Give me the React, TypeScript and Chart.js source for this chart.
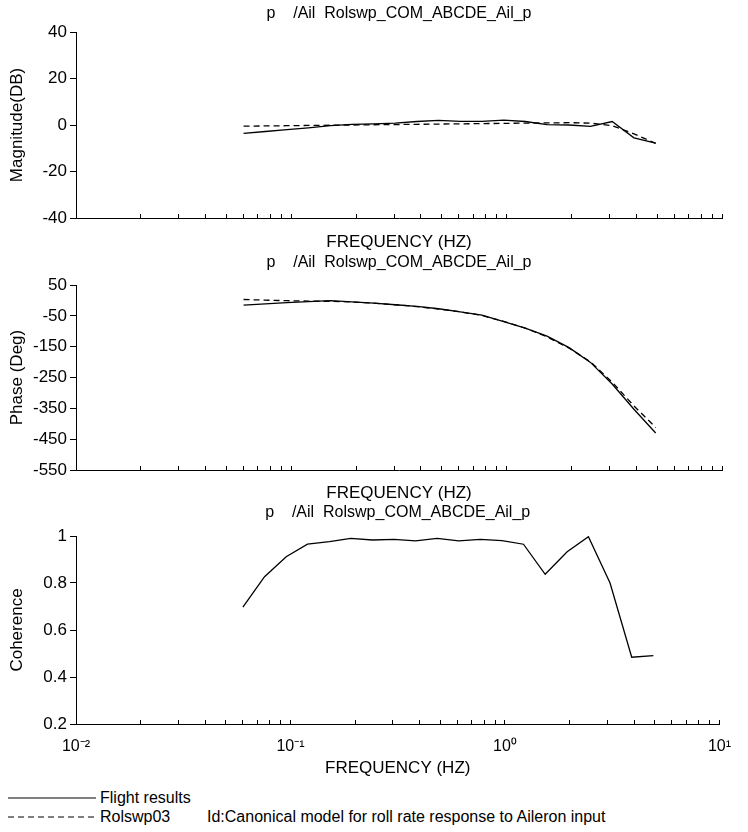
import React, { useEffect, useRef } from 'react';
import { Chart, registerables } from 'chart.js';
Chart.register(...registerables);

const FONT = "'Liberation Sans', Arial, sans-serif";

const frequencies = [0.06, 0.0757, 0.0955, 0.12, 0.152, 0.191, 0.241, 0.304, 0.383, 0.483, 0.609, 0.768, 0.969, 1.22, 1.54, 1.95, 2.45, 3.09, 3.9, 4.92];
const magFlight = [-3.6, -2.8, -2.0, -1.2, -0.3, 0.3, 0.5, 0.8, 1.5, 2.0, 1.6, 1.6, 2.1, 1.5, 0.2, 0.0, -0.6, 1.5, -5.5, -7.8];
const magModel = [-0.5, -0.4, -0.3, -0.2, -0.1, 0.0, 0.1, 0.2, 0.3, 0.4, 0.5, 0.6, 0.7, 0.8, 0.9, 1.0, 0.8, -0.3, -3.8, -7.9];
const phaseFlight = [-15, -11, -7, -4, -1, -5, -9, -14, -19, -27, -37, -48, -69, -90, -116, -153, -201, -271, -353, -430];
const phaseModel = [3, 1, -1, -2, -3, -5, -9, -14, -20, -28, -37, -49, -68, -90, -118, -155, -199, -265, -342, -412];
const coherence = [0.697, 0.827, 0.912, 0.965, 0.976, 0.99, 0.983, 0.986, 0.979, 0.99, 0.979, 0.986, 0.98, 0.965, 0.837, 0.933, 0.997, 0.8, 0.484, 0.491];

const decadeStarts = [0.01, 0.1, 1];
const minorSteps = [1, 2, 3, 4, 5, 6, 7, 8, 9];
const xTickValues: number[] = [...decadeStarts.flatMap((d) => minorSteps.map((m) => +(d * m).toPrecision(3))), 10];
const decadeLabels: Record<string, string> = { '-2': '10⁻²', '-1': '10⁻¹', '0': '10⁰', '1': '10¹' };

const magTicks = [-40, -20, 0, 20, 40];
const phaseTicks = [-550, -450, -350, -250, -150, -50, 50];
const cohTicks = [0.2, 0.4, 0.6, 0.8, 1];

const chartTitle = 'p    /Ail  Rolswp_COM_ABCDE_Ail_p';
const xTitle = 'FREQUENCY (HZ)';

type Series = { values: number[]; dash: number[] };
type Panel = {
  top: number;
  height: number;
  titlePad: { top: number; bottom: number };
  xHeight: number;
  xTitlePadBottom: number;
  showXLabels: boolean;
  xLabelPad: number;
  yTitle: string;
  yMin: number;
  yMax: number;
  yTicks: number[];
  yFormat: (v: number) => string;
  series: Series[];
};

const panels: Panel[] = [
  {
    top: 0, height: 251, titlePad: { top: 6, bottom: 10 }, xHeight: 33, xTitlePadBottom: 0.5,
    showXLabels: false, xLabelPad: 0, yTitle: 'Magnitude(DB)', yMin: -40, yMax: 40, yTicks: magTicks,
    yFormat: (v) => String(v),
    series: [{ values: magFlight, dash: [] }, { values: magModel, dash: [6, 4] }],
  },
  {
    top: 251, height: 251, titlePad: { top: 4, bottom: 14 }, xHeight: 32, xTitlePadBottom: 0.5,
    showXLabels: false, xLabelPad: 0, yTitle: 'Phase (Deg)', yMin: -550, yMax: 50, yTicks: phaseTicks,
    yFormat: (v) => String(v),
    series: [{ values: phaseFlight, dash: [] }, { values: phaseModel, dash: [6, 4] }],
  },
  {
    top: 502, height: 276, titlePad: { top: 3, bottom: 15 }, xHeight: 54, xTitlePadBottom: 1.5,
    showXLabels: true, xLabelPad: 17, yTitle: 'Coherence', yMin: 0.2, yMax: 1, yTicks: cohTicks,
    yFormat: (v) => String(Math.round(v * 10) / 10),
    series: [{ values: coherence, dash: [] }],
  },
];

function PanelChart({ p }: { p: Panel }) {
  const ref = useRef<HTMLCanvasElement | null>(null);
  useEffect(() => {
    if (!ref.current) return;
    const chart = new Chart(ref.current, {
      type: 'line',
      data: {
        datasets: p.series.map((s) => ({
          data: frequencies.map((f, i) => ({ x: f, y: s.values[i] })),
          borderColor: '#000',
          borderWidth: 1.3,
          borderDash: s.dash,
          pointRadius: 0,
          fill: false,
          tension: 0,
        })),
      },
      options: {
        animation: false,
        responsive: false,
        maintainAspectRatio: false,
        layout: { padding: { left: 0, right: 26, top: 0, bottom: 0 } },
        plugins: {
          legend: { display: false },
          tooltip: { enabled: false },
          title: {
            display: true,
            text: chartTitle,
            color: '#000',
            fullSize: false,
            font: { family: FONT, size: 16, weight: 'normal', lineHeight: 1 },
            padding: p.titlePad,
          },
        },
        scales: {
          x: {
            type: 'logarithmic',
            min: 0.01,
            max: 10,
            position: 'bottom',
            afterBuildTicks: (s: any) => {
              s.ticks = xTickValues.map((v) => ({ value: v }));
            },
            afterFit: (s: any) => {
              s.height = p.xHeight;
            },
            grid: { display: true, drawOnChartArea: false, drawTicks: true, tickLength: -4, color: '#000' },
            border: { display: true, color: '#000', width: 1 },
            ticks: {
              display: p.showXLabels,
              autoSkip: false,
              maxRotation: 0,
              padding: p.xLabelPad,
              color: '#000',
              font: { family: FONT, size: 16 },
              callback: (v: any) => {
                const l = Math.log10(Number(v));
                if (Math.abs(l - Math.round(l)) < 1e-6) return decadeLabels[String(Math.round(l))] || '';
                return '';
              },
            },
            title: {
              display: true,
              text: xTitle,
              color: '#000',
              font: { family: FONT, size: 17, lineHeight: 1 },
              padding: { top: 0, bottom: p.xTitlePadBottom },
            },
          },
          y: {
            type: 'linear',
            min: p.yMin,
            max: p.yMax,
            afterBuildTicks: (s: any) => {
              s.ticks = p.yTicks.map((v) => ({ value: v }));
            },
            afterFit: (s: any) => {
              s.width = 76;
            },
            grid: { display: true, drawOnChartArea: false, drawTicks: true, tickLength: 6, color: '#000' },
            border: { display: true, color: '#000', width: 1 },
            ticks: {
              autoSkip: false,
              padding: 3,
              color: '#000',
              font: { family: FONT, size: 17 },
              callback: (v: any) => p.yFormat(Number(v)),
            },
            title: {
              display: true,
              text: p.yTitle,
              color: '#000',
              font: { family: FONT, size: 17, lineHeight: 1 },
              padding: { top: 8.5, bottom: 0 },
            },
          },
        },
      } as any,
    });
    return () => chart.destroy();
  }, [p]);
  return (
    <canvas
      ref={ref}
      width={748}
      height={p.height}
      style={{ position: 'absolute', left: 0, top: p.top, width: 748, height: p.height, display: 'block' }}
    />
  );
}

const legendItems = [
  { top: 798, dash: '', label: 'Flight results', note: '' },
  { top: 817, dash: '6 4', label: 'Rolswp03', note: 'Id:Canonical model for roll rate response to Aileron input' },
];

export default function App() {
  return (
    <div style={{ position: 'absolute', left: 0, top: 0, width: 748, height: 832, background: '#fff', overflow: 'hidden' }}>
      {panels.map((p, i) => (
        <PanelChart key={i} p={p} />
      ))}
      {legendItems.map((it, i) => (
        <div key={i}>
          <svg style={{ position: 'absolute', left: 8, top: it.top - 4, width: 88, height: 8 }} width={88} height={8}>
            <line x1={0} y1={4} x2={88} y2={4} stroke="#000" strokeWidth={1.2} strokeDasharray={it.dash || undefined} />
          </svg>
          <div style={{ position: 'absolute', left: 100, top: it.top - 10, fontFamily: FONT, fontSize: 16, lineHeight: '20px', color: '#000', whiteSpace: 'pre' }}>
            {it.label}
          </div>
          {it.note ? (
            <div style={{ position: 'absolute', left: 207, top: it.top - 10, fontFamily: FONT, fontSize: 16, lineHeight: '20px', color: '#000', whiteSpace: 'pre' }}>
              {it.note}
            </div>
          ) : null}
        </div>
      ))}
    </div>
  );
}
